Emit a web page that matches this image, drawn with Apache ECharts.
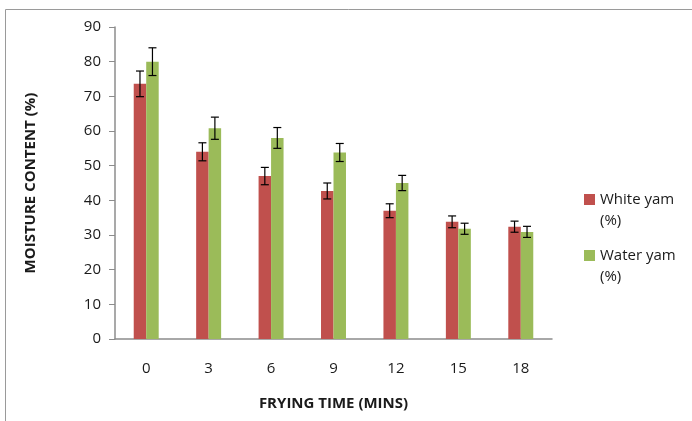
<!DOCTYPE html>
<html><head><meta charset="utf-8">
<script src="https://cdn.jsdelivr.net/npm/echarts@6/dist/echarts.min.js"></script>
<style>html,body{margin:0;padding:0;background:#fff}#c{width:692px;height:421px}</style>
</head><body><div id="c"></div>
<script>
const categories = ['0','3','6','9','12','15','18'];
const whiteYam = [73.6, 54.0, 47.0, 42.7, 37.0, 33.8, 32.4];
const waterYam = [80.0, 60.8, 58.0, 53.8, 45.0, 31.8, 30.9];
const whiteErr = [3.7, 2.6, 2.5, 2.3, 2.0, 1.7, 1.6];
const waterErr = [4.0, 3.2, 3.0, 2.6, 2.2, 1.6, 1.6];
const yTicks = {min: 0, max: 90, interval: 10};

const chart = echarts.init(document.getElementById('c'));
const FONT = 'Open Sans';
const TXT = '#1a1a1a';

function errSeries(vals, errs, side) {
  return {
    type: 'custom',
    z: 5,
    data: vals.map((v, i) => [i, v, errs[i]]),
    renderItem: function (params, api) {
      const i = api.value(0), v = api.value(1), e = api.value(2);
      const band = api.size([1, 0])[0];
      const off = side * band * 0.1;
      const top = api.coord([i, v + e]);
      const bot = api.coord([i, v - e]);
      const x = top[0] + off;
      const cap = 4;
      const st = {stroke: '#000', lineWidth: 1.2};
      return {type: 'group', children: [
        {type: 'line', shape: {x1: x, y1: top[1], x2: x, y2: bot[1]}, style: st},
        {type: 'line', shape: {x1: x - cap, y1: top[1], x2: x + cap, y2: top[1]}, style: st},
        {type: 'line', shape: {x1: x - cap, y1: bot[1], x2: x + cap, y2: bot[1]}, style: st}
      ]};
    },
    silent: true,
    tooltip: {show: false}
  };
}

chart.setOption({
  animation: false,
  textStyle: {fontFamily: FONT},
  grid: {left: 115, right: 140, top: 27, bottom: 82},
  legend: {
    orient: 'vertical',
    left: 584, top: 189,
    padding: 0,
    itemWidth: 11, itemHeight: 32,
    itemGap: 14,
    icon: 'path://M0,0H11V11H0Z M0,31.99H0.01V32H0Z',
    data: ['White yam', 'Water yam'],
    formatter: n => n + '\n(%)',
    textStyle: {fontFamily: FONT, fontSize: 15, color: TXT, lineHeight: 21}
  },
  xAxis: {
    type: 'category',
    data: categories,
    axisLine: {lineStyle: {color: '#8c8c8c', width: 1.5}},
    axisTick: {show: false},
    axisLabel: {margin: 22, fontSize: 15, color: TXT, fontFamily: FONT},
    name: 'FRYING TIME (MINS)',
    nameLocation: 'middle',
    nameGap: 57,
    nameTextStyle: {fontSize: 15, fontWeight: 'bold', color: TXT, fontFamily: FONT}
  },
  yAxis: {
    type: 'value',
    min: yTicks.min, max: yTicks.max, interval: yTicks.interval,
    axisLine: {show: true, lineStyle: {color: '#8c8c8c', width: 1.5}},
    axisTick: {show: true, length: 6, lineStyle: {color: '#8c8c8c'}},
    splitLine: {show: false},
    axisLabel: {margin: 14, fontSize: 15, color: TXT, fontFamily: FONT},
    name: 'MOISTURE CONTENT (%)',
    nameLocation: 'middle',
    nameGap: 77,
    nameRotate: 90,
    nameTextStyle: {fontSize: 15, fontWeight: 'bold', color: TXT, fontFamily: FONT}
  },
  series: [
    {name: 'White yam', type: 'bar', data: whiteYam, barWidth: '20%', barGap: '0%', itemStyle: {color: '#C0504D'}},
    {name: 'Water yam', type: 'bar', data: waterYam, barWidth: '20%', barGap: '0%', itemStyle: {color: '#9BBB59'}},
    errSeries(whiteYam, whiteErr, -1),
    errSeries(waterYam, waterErr, 1)
  ],
  graphic: [
    {type: 'polyline', shape: {points: [[5.5, 421], [5.5, 9.5], [692, 9.5]]}, style: {stroke: '#9a9a9a', lineWidth: 1, fill: null}}
  ]
});
</script></body></html>
